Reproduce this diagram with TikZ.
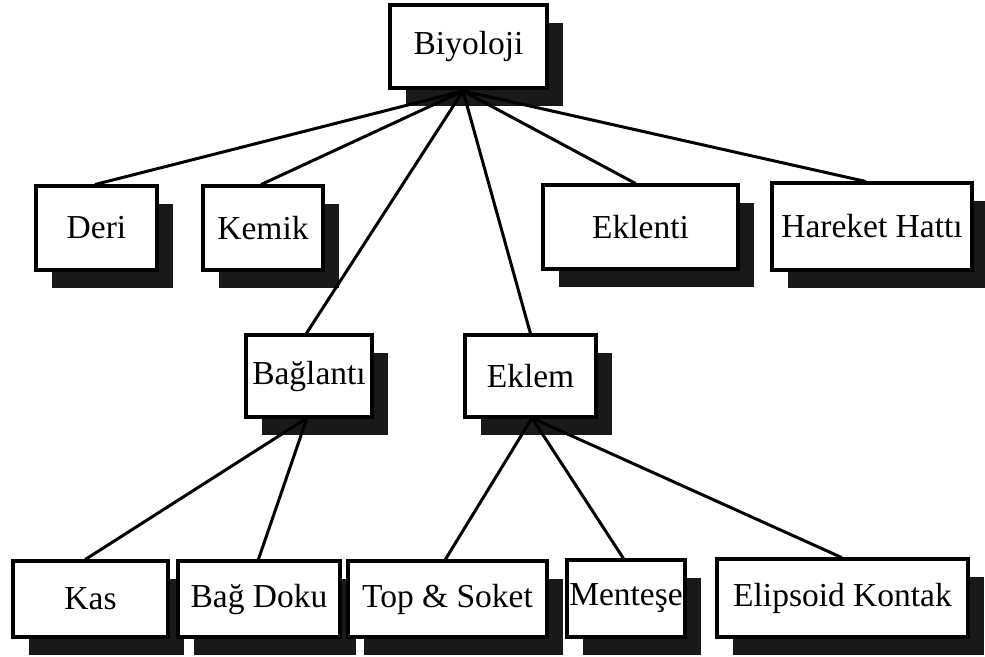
\documentclass[tikz,border=0pt]{standalone}
\usepackage{fontspec}
\setmainfont{Liberation Serif}
\usetikzlibrary{shadows,calc}
\begin{document}
\begin{tikzpicture}[x=1pt,y=-1pt,
  box/.style={draw=black, line width=3.2pt, fill=white, inner sep=0pt,
    font=\fontsize{33.5}{38}\selectfont,
    drop shadow={shadow xshift=16pt, shadow yshift=-18pt, fill=black!90, opacity=1}},
  conn/.style={line width=3pt, line cap=round}]
\useasboundingbox (0,0) rectangle (985,656);
\newcommand\boxat[6]{%
  \pgfmathsetmacro\bw{#4-#2}\pgfmathsetmacro\bh{#5-#3}%
  \pgfmathsetmacro\bx{(#2+#4)/2}\pgfmathsetmacro\by{(#3+#5)/2}%
  \node[box, minimum width=\bw pt, minimum height=\bh pt] (#1) at (\bx,\by) {#6};}
\coordinate (hubA) at (463,91);
\coordinate (hubB) at (307,418);
\coordinate (hubC) at (532,418);
% boxes
\boxat{biyoloji}{390}{5}{547}{88}{Biyoloji}
\boxat{deri}{36}{186}{157}{270}{Deri}
\boxat{kemik}{203}{186}{323}{270}{Kemik}
\boxat{eklenti}{543}{185}{738}{269}{Eklenti}
\boxat{hareket}{772}{183}{972}{270}{Hareket Hattı}
\boxat{baglanti}{246}{335}{372}{417}{Bağlantı}
\boxat{eklem}{465}{335}{596}{417}{Eklem}
\boxat{kas}{13}{561}{168}{637}{Kas}
\boxat{bagdoku}{178}{561}{340}{637}{Bağ Doku}
\boxat{topsoket}{348}{561}{547}{637}{Top \& Soket}
\boxat{mentese}{567}{560}{685}{637}{Menteşe}
\boxat{elipsoid}{717}{559}{968}{637}{Elipsoid Kontak}
% connectors
\draw[conn] (hubA) -- ([xshift=61pt]deri.north west);
\draw[conn] (hubA) -- ([xshift=60pt]kemik.north west);
\draw[conn] (hubA) -- ([xshift=62pt]baglanti.north west);
\draw[conn] (hubA) -- ([xshift=67pt]eklem.north west);
\draw[conn] (hubA) -- ([xshift=94pt]eklenti.north west);
\draw[conn] (hubA) -- ([xshift=95pt]hareket.north west);
\draw[conn] (hubB) -- ([xshift=74pt]kas.north west);
\draw[conn] (hubB) -- ([xshift=82pt]bagdoku.north west);
\draw[conn] (hubC) -- ([xshift=99pt]topsoket.north west);
\draw[conn] (hubC) -- ([xshift=58pt]mentese.north west);
\draw[conn] (hubC) -- ([xshift=126pt]elipsoid.north west);
\end{tikzpicture}
\end{document}
